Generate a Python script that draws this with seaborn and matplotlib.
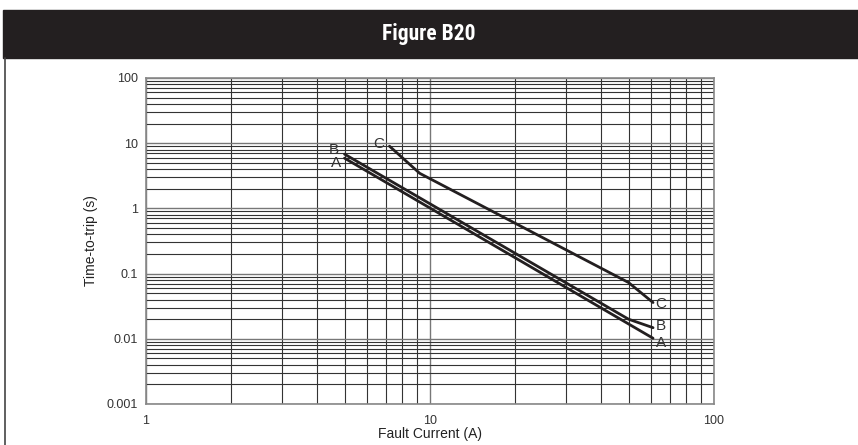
import matplotlib
matplotlib.use('Agg')
import matplotlib.pyplot as plt
import matplotlib.patches as mpatches
from matplotlib import font_manager
from matplotlib.ticker import LogLocator, NullFormatter, FixedLocator, FixedFormatter
import pandas as pd
import seaborn as sns

# curve data (current in A, time in s)
curve_a_x = [5.0, 61.0]
curve_a_y = [5.9, 0.0102]
curve_b_x = [5.0, 50.0, 61.0]
curve_b_y = [6.8, 0.0200, 0.0148]
curve_c_x = [7.2, 9.2, 50.0, 61.0]
curve_c_y = [9.0, 3.45, 0.073, 0.036]

x_ticks = [1, 10, 100]
x_tick_labels = ['1', '10', '100']
y_ticks = [0.001, 0.01, 0.1, 1, 10, 100]
y_tick_labels = ['0.001', '0.01', '0.1', '1', '10', '100']

df = pd.concat([
    pd.DataFrame({'current': curve_a_x, 'time': curve_a_y, 'curve': 'A'}),
    pd.DataFrame({'current': curve_b_x, 'time': curve_b_y, 'curve': 'B'}),
    pd.DataFrame({'current': curve_c_x, 'time': curve_c_y, 'curve': 'C'}),
])

sns.set_style('white')
plt.rcParams['font.family'] = ['Liberation Sans', 'DejaVu Sans']

names = {f.name for f in font_manager.fontManager.ttflist}
title_font = 'DejaVu Sans'
for cand in ['Liberation Sans Narrow', 'DejaVu Sans Condensed', 'Roboto Condensed', 'Liberation Sans']:
    if cand in names:
        title_font = cand
        break

fig = plt.figure(figsize=(8.58, 4.45), dpi=100)

# dark title bar
fig.patches.append(mpatches.Rectangle((3 / 858, 1 - 58 / 445), 1, 48 / 445,
                                      transform=fig.transFigure, color='#231f20', zorder=0))
fig.text(429 / 858, 1 - 34 / 445, 'Figure B20', color='white', fontsize=15.5, fontweight='bold',
         family=[title_font, 'DejaVu Sans'], ha='center', va='center')
fig.lines.append(plt.Line2D([5 / 858, 5 / 858], [0, 1 - 58 / 445], transform=fig.transFigure,
                            color='#444444', linewidth=1.2))

ax = fig.add_axes([146 / 858, 1 - 404 / 445, 568 / 858, 326 / 445])
sns.lineplot(data=df, x='current', y='time', hue='curve', units='curve', estimator=None,
             palette=['#231f20'] * 3, linewidth=2.0, legend=False, sort=False, ax=ax)
ax.set_xscale('log')
ax.set_yscale('log')
ax.set_xlim(1, 100)
ax.set_ylim(0.001, 100)

ax.xaxis.set_major_locator(FixedLocator(x_ticks))
ax.xaxis.set_major_formatter(FixedFormatter(x_tick_labels))
ax.yaxis.set_major_locator(FixedLocator(y_ticks))
ax.yaxis.set_major_formatter(FixedFormatter(y_tick_labels))
ax.xaxis.set_minor_locator(LogLocator(base=10, subs=range(2, 10)))
ax.yaxis.set_minor_locator(LogLocator(base=10, subs=range(2, 10)))
ax.xaxis.set_minor_formatter(NullFormatter())
ax.yaxis.set_minor_formatter(NullFormatter())
ax.grid(True, which='major', color='#777777', linewidth=1.0)
ax.grid(True, which='minor', color='#333333', linewidth=0.8)
ax.set_axisbelow(True)
ax.tick_params(which='both', length=0, labelsize=9, colors='#333333')
ax.tick_params(axis='x', pad=8)
ax.tick_params(axis='y', pad=6)
for s in ax.spines.values():
    s.set_color('#888888')
    s.set_linewidth(1.2)

ax.set_xlabel('Fault Current (A)', fontsize=10, color='#222222', labelpad=0)
ax.set_ylabel('Time-to-trip (s)', fontsize=10, color='#222222', labelpad=6)

# curve labels
lbl = dict(fontsize=11, color='#333333', ha='center', va='center')
ax.text(4.6, 7.8, 'B', **lbl)
ax.text(4.65, 4.9, 'A', **lbl)
ax.text(6.6, 9.6, 'C', **lbl)
ax.text(65, 0.034, 'C', **lbl)
ax.text(65, 0.0155, 'B', **lbl)
ax.text(65, 0.0085, 'A', **lbl)

fig.savefig('out.png', dpi=100)
